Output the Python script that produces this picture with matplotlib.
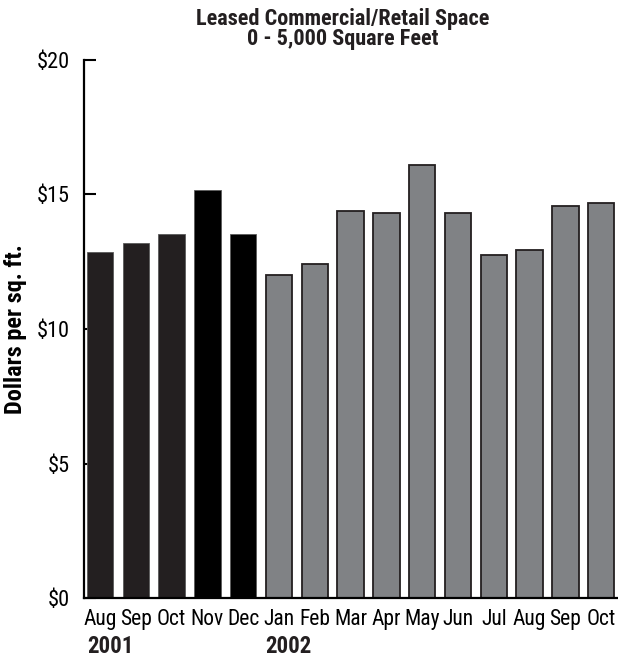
import matplotlib
matplotlib.use("Agg")
import matplotlib.pyplot as plt
import matplotlib.transforms as mtransforms

plt.rcParams['font.family'] = ['Roboto Condensed', 'DejaVu Sans']

# data
months = ['Aug', 'Sep', 'Oct', 'Nov', 'Dec', 'Jan', 'Feb', 'Mar', 'Apr', 'May',
          'Jun', 'Jul', 'Aug', 'Sep', 'Oct']
prices = [12.85, 13.2, 13.55, 15.15, 13.55, 12.0, 12.4, 14.37, 14.32, 16.1,
          14.32, 12.74, 12.94, 14.58, 14.68]
bar_colors = ['#231f20', '#231f20', '#231f20', '#000000', '#000000'] + ['#808285'] * 10
years = ['2001', '2002']
year_pos = [0, 5]

fig = plt.figure(figsize=(6.18, 6.6), dpi=100)
ax = fig.add_axes([84 / 618, 62 / 660, 534 / 618, 538 / 660])

x = list(range(len(months)))
for i in x:
    if i < 5:
        ax.bar(i, prices[i], width=0.74, color=bar_colors[i], edgecolor='#5a5a5a',
               linewidth=0.6, zorder=2)
    else:
        ax.bar(i, prices[i], width=0.74, color=bar_colors[i], edgecolor='#231f20',
               linewidth=1.3, zorder=2)

ax.set_ylim(0, 20)
ax.set_xlim(-0.447, 14.47)
ax.set_yticks([0, 5, 10, 15, 20])
ax.set_yticklabels(['$0', '$5', '$10', '$15', '$20'], fontsize=16)
ax.set_xticks(x)
ax.set_xticklabels(months, fontsize=15.5)
ax.tick_params(axis='y', direction='in', length=8.5, width=1.5, pad=10, colors='black')
ax.tick_params(axis='x', length=0, pad=8)

for side in ['top', 'right']:
    ax.spines[side].set_visible(False)
ax.spines['left'].set_linewidth(1.6)
ax.spines['bottom'].set_linewidth(1.6)

trans = mtransforms.blended_transform_factory(ax.transData, ax.transAxes)
for yr, p in zip(years, year_pos):
    ax.text(p - 0.37, -0.09, yr, transform=trans, ha='left', va='center',
            fontsize=16.5, fontweight='bold', color='#231f20')

ax.set_ylabel('Dollars per sq. ft.', fontsize=17.5, fontweight='bold', labelpad=7)
fig.text(343 / 618, 1 - 29 / 660, 'Leased Commercial/Retail Space\n0 - 5,000 Square Feet',
         ha='center', va='center', fontsize=16, fontweight='bold',
         color='#231f20', linespacing=0.88)

fig.savefig('out.png', dpi=100)
